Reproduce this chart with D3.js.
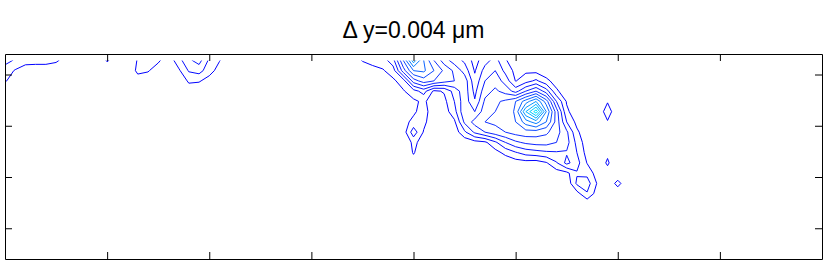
<!DOCTYPE html>
<html>
<head>
<meta charset="utf-8">
<script src="https://cdn.jsdelivr.net/npm/d3@7"></script>
<style>
  body { margin: 0; background: #fff; }
  text { font-family: "Liberation Sans", Arial, sans-serif; }
</style>
</head>
<body>
<div id="chart"></div>
<script>
// sample grid: 81 columns (x = 0..8, step 0.1), 20 rows (y = 0.125.., step 0.2)
const nCols = 81, nRows = 20;
const xStep = 0.1, yStart = 0.125, yStep = 0.2;
const xTicks = [1, 2, 3, 4, 5, 6, 7];
const yTicks = [0.4, 1.4, 2.4, 3.4];
const levels = [1, 2, 3, 4, 5, 6, 7, 8, 9, 10, 11, 12];

// non-zero parts of the field, [col, row] of their first sample
const cornerAt = [0, 0];
const cornerVals = [
  [2.3, 1.9, 1.6, 1.5, 1.5, 1.2, 0.5],
  [1.6, 0.9, 0.2, 0.2, 0.2, 0.2, 0.1],
  [1.1, 0.5, 0, 0, 0, 0, 0],
  [0.4, 0.1, 0, 0, 0, 0, 0]
];

const bumpsAt = [9, 0];
const bumpsVals = [
  [0.3, 1.08, 0.6, 0, 1.1, 1.5, 1.2, 0.3, 1.6, 2.8, 3.4, 1.8, 1.05, 0.3],
  [0, 0.5, 0, 0, 1.3, 1.1, 0.4, 0, 0.8, 2.1, 2.4, 1.4, 0.6, 0],
  [0, 0, 0, 0, 0.4, 0.3, 0, 0, 0, 1.2, 1.1, 0.6, 0, 0],
  [0, 0, 0, 0, 0, 0, 0, 0, 0, 0.3, 0.3, 0, 0, 0]
];

const bandAt = [34, 0];
const bandVals = [
  [0.5, 1.05, 1.2, 1.5, 2.6, 6.0, 9.6, 7.0, 5.0, 3.5, 2.5, 1.8, 0.6, 1.6, 2.4, 1.1, 0.4, 0.3, 0.2, 0.1, 0, 0, 0, 0, 0, 0, 0, 0, 0],
  [0.2, 0.5, 0.8, 0.9, 1.5, 4.5, 7.0, 7.2, 6.0, 4.8, 3.8, 2.6, 0.9, 2.4, 3.0, 1.7, 0.7, 0.8, 0.7, 0.3, 0.1, 0, 0, 0, 0, 0, 0, 0, 0],
  [0, 0.2, 0.4, 0.6, 0.8, 1.5, 4.5, 5.5, 5.0, 4.4, 4.0, 3.6, 1.3, 3.0, 3.6, 2.6, 0.95, 1.6, 2.2, 1.3, 0.5, 0.1, 0, 0, 0, 0, 0, 0, 0],
  [0, 0, 0.1, 0.3, 0.5, 0.9, 1.6, 2.4, 0.8, 1.1, 2.4, 3.6, 1.7, 3.6, 4.2, 3.6, 2.6, 4.0, 5.0, 3.5, 1.2, 0.3, 0, 0, 0, 0, 0, 0, 0],
  [0, 0, 0, 0.1, 0.3, 0.5, 0.8, 1.2, 0.4, 0.7, 2.0, 3.6, 2.1, 4.2, 4.8, 5.2, 6.0, 7.5, 9.0, 6.5, 3.0, 0.9, 0.3, 0, 0, 0.9, 0, 0, 0],
  [0, 0, 0, 0, 0.2, 0.4, 0.8, 1.5, 0.3, 0.5, 1.6, 3.8, 3.0, 4.6, 5.0, 5.2, 6.2, 10.0, 12.6, 8.0, 4.5, 1.2, 0.4, 0, 0.1, 1.6, 0.1, 0, 0],
  [0, 0, 0, 0, 0, 0.6, 1.3, 1.3, 0.2, 0.2, 0.8, 3.2, 4.4, 5.0, 5.2, 5.4, 6.0, 7.5, 8.5, 7.0, 4.6, 2.0, 0.7, 0.2, 0, 0.9, 0, 0, 0],
  [0, 0, 0, 0, 0, 0.44, 2.6, 0.9, 0.2, 0.1, 0.4, 1.8, 3.2, 4.0, 4.6, 5.0, 5.4, 5.6, 5.5, 5.2, 4.4, 3.2, 1.2, 0.3, 0, 0, 0, 0, 0],
  [0, 0, 0, 0, 0, 0, 1.3, 0.5, 0.1, 0, 0.1, 0.3, 0.6, 0.8, 1.8, 3.0, 3.8, 4.2, 4.4, 4.4, 4.0, 3.4, 1.7, 0.4, 0, 0, 0, 0, 0],
  [0, 0, 0, 0, 0, 0, 1.1, 0.2, 0, 0, 0, 0, 0, 0.1, 0.6, 1.3, 1.9, 2.4, 2.6, 2.8, 2.9, 2.9, 2.0, 0.6, 0.1, 0.8, 0, 0, 0],
  [0, 0, 0, 0, 0, 0, 0.5, 0, 0, 0, 0, 0, 0, 0, 0, 0.2, 0.5, 0.6, 0.5, 0.9, 1.9, 3.3, 2.4, 0.95, 0.3, 1.15, 0.2, 0, 0],
  [0, 0, 0, 0, 0, 0, 0, 0, 0, 0, 0, 0, 0, 0, 0, 0, 0, 0, 0, 0.2, 0.5, 0.7, 1.9, 1.7, 0.5, 0.6, 0.1, 0, 0],
  [0, 0, 0, 0, 0, 0, 0, 0, 0, 0, 0, 0, 0, 0, 0, 0, 0, 0, 0, 0, 0, 0.2, 2.2, 2.5, 0.9, 0.1, 1.4, 0.1, 0],
  [0, 0, 0, 0, 0, 0, 0, 0, 0, 0, 0, 0, 0, 0, 0, 0, 0, 0, 0, 0, 0, 0, 0.6, 1.9, 0.5, 0, 0.2, 0, 0],
  [0, 0, 0, 0, 0, 0, 0, 0, 0, 0, 0, 0, 0, 0, 0, 0, 0, 0, 0, 0, 0, 0, 0, 0.2, 0, 0, 0, 0, 0]
];

const width = 830, height = 266;
const margin = {top: 54, right: 8, bottom: 7, left: 5};

const svg = d3.select('#chart').append('svg')
  .attr('width', width)
  .attr('height', height);

const x = d3.scaleLinear().domain([0, 8]).range([margin.left, width - margin.right]);
const y = d3.scaleLinear().domain([0, 4]).range([margin.top, height - margin.bottom]);

// build the field
const grid = new Array(nCols * nRows).fill(0);
function place(at, rows) {
  rows.forEach((row, j) => row.forEach((v, i) => {
    grid[(at[1] + j) * nCols + at[0] + i] = v;
  }));
}
place(cornerAt, cornerVals);
place(bumpsAt, bumpsVals);
place(bandAt, bandVals);

// pad one sample on every side (edge copy) so lines end at the data edge
const pw = nCols + 2, ph = nRows + 2;
const padded = new Array(pw * ph);
for (let j = 0; j < ph; j++) {
  for (let i = 0; i < pw; i++) {
    const ci = Math.min(nCols - 1, Math.max(0, i - 1));
    const rj = Math.min(nRows - 1, Math.max(0, j - 1));
    padded[j * pw + i] = grid[rj * nCols + ci];
  }
}

const contours = d3.contours().size([pw, ph]).thresholds(levels)(padded);

const toPx = d3.geoTransform({
  point(gx, gy) {
    this.stream.point(x((gx - 1.5) * xStep), y(yStart + (gy - 1.5) * yStep));
  }
});
const path = d3.geoPath(toPx);

const color = d3.scaleLinear()
  .domain([1, 5, 13])
  .range(['#0000ff', '#1030ff', '#00ffff']);

svg.append('clipPath').attr('id', 'data-area')
  .append('rect')
  .attr('x', x(0))
  .attr('y', y(yStart))
  .attr('width', x(8) - x(0))
  .attr('height', y(yStart + (nRows - 1) * yStep) - y(yStart));

svg.append('g')
  .attr('clip-path', 'url(#data-area)')
  .selectAll('path')
  .data(contours)
  .join('path')
  .attr('d', path)
  .attr('fill', 'none')
  .attr('stroke', d => color(d.value))
  .attr('stroke-width', 1)
  .attr('stroke-linejoin', 'round');

// box with inward ticks on all sides
const tick = 7;
svg.append('g').attr('transform', `translate(0,${y(4)})`)
  .call(d3.axisBottom(x).tickValues(xTicks).tickSize(-tick).tickSizeOuter(0).tickFormat(''));
svg.append('g').attr('transform', `translate(0,${y(0)})`)
  .call(d3.axisTop(x).tickValues(xTicks).tickSize(-tick).tickSizeOuter(0).tickFormat(''));
svg.append('g').attr('transform', `translate(${x(0)},0)`)
  .call(d3.axisLeft(y).tickValues(yTicks).tickSize(-tick).tickSizeOuter(0).tickFormat(''));
svg.append('g').attr('transform', `translate(${x(8)},0)`)
  .call(d3.axisRight(y).tickValues(yTicks).tickSize(-tick).tickSizeOuter(0).tickFormat(''));
svg.selectAll('.domain, .tick line').attr('stroke', '#000');

svg.append('text')
  .attr('x', (x(0) + x(8)) / 2)
  .attr('y', 38)
  .attr('text-anchor', 'middle')
  .attr('font-size', 23)
  .attr('fill', '#000')
  .text('\u0394 y=0.004 \u03bcm');
</script>
</body>
</html>
